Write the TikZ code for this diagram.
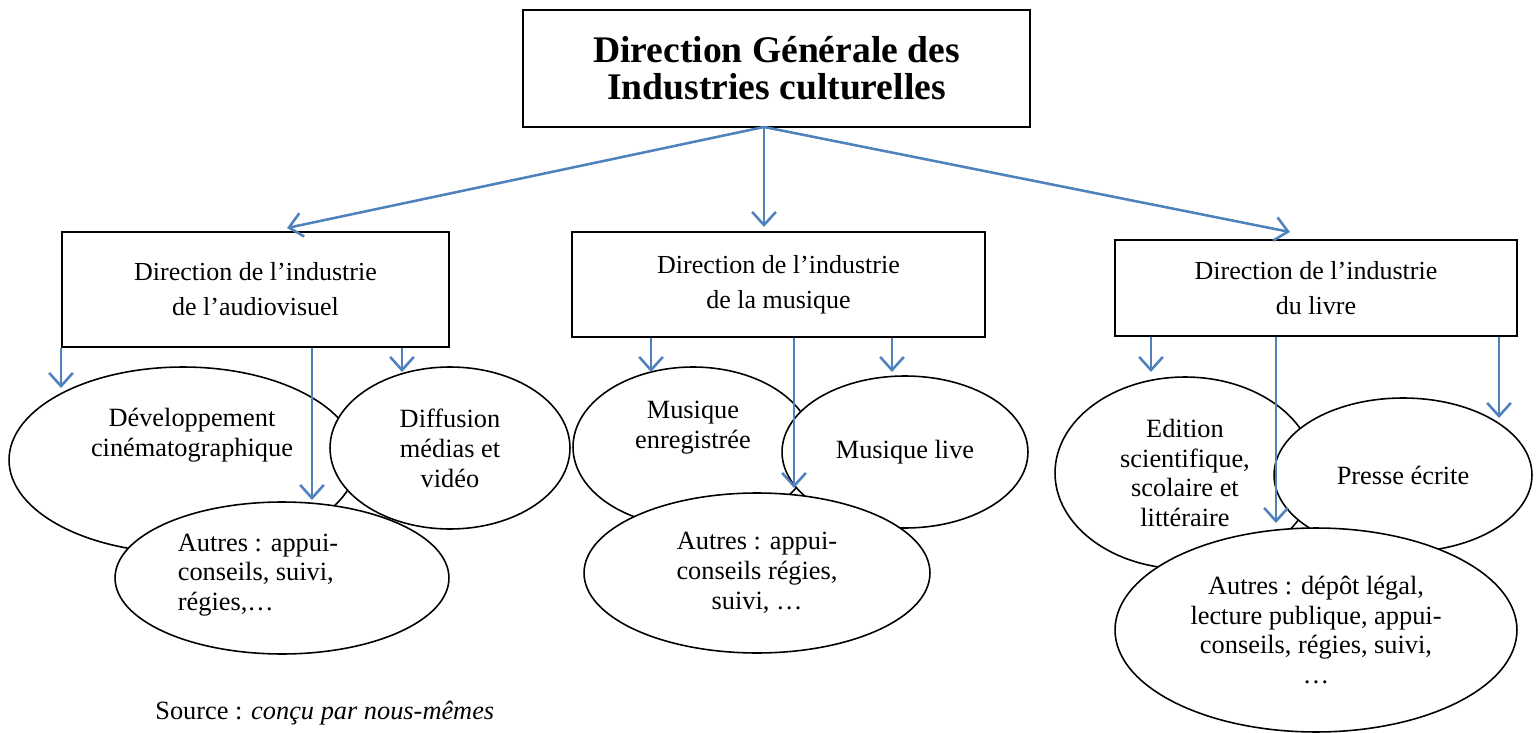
\documentclass[tikz,border=0pt]{standalone}
\usepackage{fontspec}
\setmainfont{Liberation Serif}
\usetikzlibrary{shapes.geometric,arrows.meta}
\definecolor{arrowblue}{RGB}{79,129,189}

\begin{document}
\begin{tikzpicture}[x=0.02cm,y=-0.02cm]
\tikzstyle{dirbox}=[draw=black,line width=1pt,rectangle,align=center,inner sep=0pt,font=\fontsize{14.8}{19.8}\selectfont]
\tikzstyle{oval}=[draw=black,line width=0.9pt,ellipse,fill=white,inner sep=0pt,align=center,font=\fontsize{15}{17}\selectfont]
\tikzstyle{ovaltxt}=[align=center,inner sep=0pt,font=\fontsize{15}{17}\selectfont]
\tikzstyle{arrow}=[arrowblue,line width=1.45pt,-{Straight Barb[length=7.5pt,width=13.5pt]}]
\useasboundingbox (0,0) rectangle (1539,733);
% directions
\node [dirbox,font=\bfseries\fontsize{21.4}{21}\selectfont,minimum width=10.14cm,minimum height=2.34cm] (dg) at (776.5,68.5) {Direction Générale des\\Industries culturelles};
\node [dirbox,minimum width=7.74cm,minimum height=2.3cm] (audio) at (255.5,289.5) {Direction de l’industrie\\de l’audiovisuel};
\node [dirbox,minimum width=8.26cm,minimum height=2.1cm] (musique) at (778.5,284.5) {Direction de l’industrie\\de la musique};
\node [dirbox,minimum width=8.04cm,minimum height=1.92cm] (livre) at (1316,288) {Direction de l’industrie\\du livre};
% audiovisuel
\node [oval,minimum width=6.96cm,minimum height=3.72cm,label={[ovaltxt,xshift=0.18cm,yshift=0.5cm]center:{Développement\\cinématographique}}] (cine) at (183,460) {};
\node [oval,minimum width=4.8cm,minimum height=3.24cm] (diffusion) at (450,448) {Diffusion\\médias et\\vidéo};
\node [oval,minimum width=6.68cm,minimum height=3.04cm,label={[ovaltxt,align=left,xshift=-0.48cm,yshift=0.06cm]center:{Autres : appui-\\conseils, suivi,\\régies,…}}] (autresaudio) at (282,578) {};
% musique
\node [oval,minimum width=4.8cm,minimum height=3.2cm,label={[ovaltxt,yshift=0.38cm]center:{Musique\\enregistrée}}] (enreg) at (693,447) {};
\node [oval,minimum width=4.92cm,minimum height=3.04cm] (live) at (905,452) {Musique live};
\node [oval,minimum width=6.92cm,minimum height=3.2cm] (autresmus) at (757,573) {Autres : appui-\\conseils régies,\\suivi, …};
% livre
\node [oval,minimum width=5.2cm,minimum height=3.84cm] (edition) at (1185,473) {Edition\\scientifique,\\scolaire et\\littéraire};
\node [oval,minimum width=5.16cm,minimum height=3.08cm] (presse) at (1403,475) {Presse écrite};
\node [oval,minimum width=8.04cm,minimum height=4.08cm] (autreslivre) at (1316,630) {Autres : dépôt légal,\\lecture publique, appui-\\conseils, régies, suivi,\\…};
% source
\node [anchor=west,inner sep=0pt,font=\fontsize{15}{17}\selectfont] (source) at (155,713) {Source : \textit{conçu par nous-mêmes}};
% arrows
\coordinate (top) at (764,127);
\coordinate (t1) at (287,228);
\coordinate (t2) at (764,227);
\coordinate (t3) at (1290,232);
\draw [arrow] (top) -- (t1);
\draw [arrow] (top) -- (t2);
\draw [arrow] (top) -- (t3);
\coordinate (a1) at (61,388);
\coordinate (a2) at (312,500);
\coordinate (a3) at (402,372);
\coordinate (m1) at (651,372);
\coordinate (m2) at (794,488);
\coordinate (m3) at (892,372);
\coordinate (l1) at (1151,372);
\coordinate (l2) at (1276,523);
\coordinate (l3) at (1499,418);
\draw [arrow] (audio.south -| a1) -- (a1);
\draw [arrow] (audio.south -| a2) -- (a2);
\draw [arrow] (audio.south -| a3) -- (a3);
\draw [arrow] (musique.south -| m1) -- (m1);
\draw [arrow] (musique.south -| m2) -- (m2);
\draw [arrow] (musique.south -| m3) -- (m3);
\draw [arrow] (livre.south -| l1) -- (l1);
\draw [arrow] (livre.south -| l2) -- (l2);
\draw [arrow] (livre.south -| l3) -- (l3);
\end{tikzpicture}
\end{document}
